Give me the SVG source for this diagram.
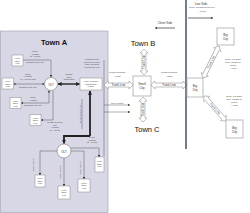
<svg xmlns="http://www.w3.org/2000/svg" width="250" height="213" viewBox="0 0 250 213">
<style>
text{font-family:"Liberation Sans",Arial,sans-serif}
.title{font-size:7.5px;fill:#111;text-anchor:middle}
.tiny{font-size:2.2px;fill:#444;text-anchor:middle}
.small{font-size:3px;fill:#333;text-anchor:middle}
.box{fill:#fff;stroke:#888;stroke-width:0.5}
.city{fill:#fff;stroke:#aaa;stroke-width:0.8}
.olt{fill:#fff;stroke:#777;stroke-width:0.6}
.thin{fill:none;stroke:#333;stroke-width:0.4}
.thick{fill:none;stroke:#222;stroke-width:1.4}
.trunk{fill:#fff;stroke:#999;stroke-width:0.6}
</style>
<defs>
<marker id="ah" viewBox="0 0 6 6" refX="5.5" refY="3" markerWidth="4" markerHeight="4" orient="auto-start-reverse" markerUnits="userSpaceOnUse">
<path d="M0,0 L6,3 L0,6 Z" fill="#222"/>
</marker>
<marker id="ahs" viewBox="0 0 6 6" refX="5.5" refY="3" markerWidth="2.2" markerHeight="2.2" orient="auto-start-reverse" markerUnits="userSpaceOnUse">
<path d="M0,0 L6,3 L0,6 Z" fill="#333"/>
</marker>
</defs>
<rect width="250" height="213" fill="#fff"/>

<g id="townA">
<rect x="0.5" y="31" width="107.5" height="181.5" fill="#d7d7e6" stroke="#9a9aaa" stroke-width="0.6"/>
<text class="title" x="54" y="45" font-weight="bold">Town A</text>
</g>

<g id="connectors">
<path class="thin" d="M23,60 H51 V77" marker-end="url(#ahs)"/>
<path class="thin" d="M13.5,84 H44.5" marker-start="url(#ahs)" marker-end="url(#ahs)"/>
<path class="thin" d="M21,103 H49 V90.5" marker-start="url(#ahs)" marker-end="url(#ahs)"/>
<path class="thin" d="M41,120 H53 V90.5" marker-start="url(#ahs)"/>
<path class="thick" d="M58,84 H79.5" marker-start="url(#ah)" marker-end="url(#ah)"/>
<path d="M90,136 V91" fill="none" stroke="#222" stroke-width="1.8" marker-end="url(#ah)"/>
<path d="M90,136 H64 V143.5" fill="none" stroke="#222" stroke-width="1.8" marker-end="url(#ah)"/>
<path class="thin" d="M104,60 V156"/>
<path class="thin" d="M82,99 V129"/>
<path class="thin" d="M104,105 H130" marker-end="url(#ahs)"/>
<path class="thin" d="M104,112 H130" marker-end="url(#ahs)"/>
<path class="thin" d="M57,151 H40 V175" marker-end="url(#ahs)"/>
<path class="thin" d="M64,158 V186" marker-end="url(#ahs)"/>
<path class="thin" d="M71,151 H84 V179" marker-end="url(#ahs)"/>
<path class="thin" d="M70.5,148 H99 V157" marker-end="url(#ahs)"/>
<path class="trunk" d="M104,85 L108,81 L108,83 L129,83 L129,81 L133,85 L129,89 L129,87 L108,87 L108,89 Z"/>
<text class="small" x="118.5" y="86.1" font-size="2.8">Trunk Line</text>
<path class="trunk" d="M151,85 L155,81 L155,83 L183,83 L183,81 L187,85 L183,89 L183,87 L155,87 L155,89 Z"/>
<text class="small" x="169" y="86.1" font-size="2.8">Trunk Line</text>
<path class="trunk" d="M144,49 L148,53 L146,53 L146,71 L148,71 L144,75 L140,71 L142,71 L142,53 L140,53 Z"/>
<text class="small" transform="translate(145,62) rotate(-90)" font-size="2.8">Trunk Line</text>
<path class="trunk" d="M143,97 L147,101 L145,101 L145,118 L147,118 L143,122 L139,118 L141,118 L141,101 L139,101 Z"/>
<text class="small" transform="translate(144,109.5) rotate(-90)" font-size="2.8">Trunk Line</text>
<g transform="translate(203,78) rotate(-63.4)">
<path class="trunk" d="M0,0 L4,-4 L4,-2 L31.8,-2 L31.8,-4 L35.8,0 L31.8,4 L31.8,2 L4,2 L4,4 Z"/>
<text class="small" x="17.9" y="1" font-size="2.8">Trunk Line</text>
</g>
<g transform="translate(204,96) rotate(48.7)">
<path class="trunk" d="M0,0 L4,-4 L4,-2 L29.3,-2 L29.3,-4 L33.3,0 L29.3,4 L29.3,2 L4,2 L4,4 Z"/>
<text class="small" x="16.6" y="1" font-size="2.8">Trunk Line</text>
</g>
<path d="M186,0 V149" stroke="#26335f" stroke-width="1.3"/>
<path d="M188,18 H213" stroke="#111" stroke-width="0.6" marker-end="url(#ahs)"/>
<path d="M175,28 H155" stroke="#111" stroke-width="0.6" marker-end="url(#ahs)"/>
</g>

<g id="labels">
<text class="small" x="201" y="4.5">Line Side</text>
<text class="tiny" x="202" y="8">Some 100Gbps Trunk line</text>
<text class="tiny" x="202" y="11.5">+ 80 km</text>
<text class="small" x="165" y="24">Client Side</text>
<text class="tiny" x="117" y="73">Tenant 100Gbps</text>
<text class="tiny" x="117" y="76.5">+ 80km</text>
<text class="tiny" x="169" y="73">Tenant 100Gbps</text>
<text class="tiny" x="169" y="76.5">+ 80km</text>
<text class="tiny" x="233" y="59.5">Some 1-3 Gbps</text>
<text class="tiny" x="233" y="62.5">lines, ranging to</text>
<text class="tiny" x="233" y="65.5">400km,</text>
<text class="tiny" x="233" y="68.5">+ 40km</text>
<text class="tiny" x="234" y="96.5">Some 1-3 Gbps</text>
<text class="tiny" x="234" y="99.5">lines, ranging to</text>
<text class="tiny" x="234" y="102.5">400km,</text>
<text class="tiny" x="234" y="105.5">+ 40km</text>
<text class="title" x="143" y="45.5">Town B</text>
<text class="title" x="147" y="132">Town C</text>
<text class="tiny" x="35" y="52">Node</text>
<text class="tiny" x="35" y="54.5">1 Gbps</text>
<text class="tiny" x="35" y="57">60 - 80 km</text>
<text class="tiny" x="35" y="63">Tenant service line</text>
<text class="tiny" x="28" y="74.5">Node</text>
<text class="tiny" x="28" y="77">1 Gbps</text>
<text class="tiny" x="28" y="79.5">60 - 80 km lines</text>
<text class="tiny" x="28" y="88">Tenant service line</text>
<text class="tiny" x="33" y="98">Node</text>
<text class="tiny" x="33" y="100.5">1 Gbps</text>
<text class="tiny" x="33" y="105.5">Tenant service line</text>
<text class="tiny" x="55" y="123">Tenant Telecom</text>
<text class="tiny" x="55" y="125.5">line</text>
<text class="tiny" x="55" y="128">1 Gbps</text>
<text class="tiny" x="55" y="130.5">60 - 80 km</text>
<text class="tiny" x="69" y="75">Optical</text>
<text class="tiny" x="69" y="77.5">Fiber</text>
<text class="tiny" x="69" y="80">Connection</text>
<text class="tiny" x="92" y="60">Tenant service</text>
<text class="tiny" x="92" y="62.5">Service Provider</text>
<text class="tiny" x="92" y="65">Fiber Terminal</text>
<text class="tiny" x="92" y="67.5">in Telecom Unit</text>
<text class="tiny" x="92" y="138">Trunk</text>
<text class="tiny" x="92" y="140.5">1 Gbps</text>
<text class="tiny" x="92" y="143">60 - 80 km</text>
<text class="tiny" transform="translate(80.5,114) rotate(-90)">Tenant service line</text>
<text class="tiny" x="117" y="103.5">Fiber Tenant</text>
<text class="tiny" transform="translate(34,165) rotate(-90)">Node 1 Gbps</text>
<text class="tiny" transform="translate(61,172) rotate(-90)">Node 1 Gbps</text>
<text class="tiny" transform="translate(81,168) rotate(-90)">Node 1 Gbps</text>
</g>

<g id="olt-top">
<circle class="olt" cx="51" cy="84" r="6.5"/>
<text class="small" x="51" y="85.6" font-size="4.5">OLT</text>
</g>
<g id="olt-bottom">
<circle class="olt" cx="64" cy="151" r="7"/>
<text class="small" x="64" y="152.6" font-size="4.5">OLT</text>
</g>
<g id="unit-1"><rect class="box" x="12" y="55" width="11" height="11"/><text class="tiny" x="17.5" y="59">Home</text><text class="tiny" x="17.5" y="61.5">Office</text><text class="tiny" x="17.5" y="64">Unit</text></g>
<g id="unit-2"><rect class="box" x="2" y="78" width="11.5" height="11"/><text class="tiny" x="7.75" y="82">Home</text><text class="tiny" x="7.75" y="84.5">Office</text><text class="tiny" x="7.75" y="87">Unit</text></g>
<g id="unit-3"><rect class="box" x="10" y="97.5" width="11" height="11"/><text class="tiny" x="15.5" y="101.5">Home</text><text class="tiny" x="15.5" y="104">Office</text><text class="tiny" x="15.5" y="106.5">Unit</text></g>
<g id="unit-4"><rect class="box" x="30" y="114.5" width="11" height="11"/><text class="tiny" x="35.5" y="118.5">Home</text><text class="tiny" x="35.5" y="121">Office</text><text class="tiny" x="35.5" y="123.5">Unit</text></g>
<g id="fiber-terminal"><rect class="box" x="80" y="78" width="22" height="12"/><text class="tiny" x="91" y="82">Fiber Terminal</text><text class="tiny" x="91" y="84.5">Distribution</text><text class="tiny" x="91" y="87">Frame</text></g>
<g id="unit-5"><rect class="box" x="35" y="175" width="10" height="12"/><text class="tiny" x="40" y="179">Home</text><text class="tiny" x="40" y="181.5">Office</text><text class="tiny" x="40" y="184">Unit</text></g>
<g id="unit-6"><rect class="box" x="58" y="186" width="12" height="13"/><text class="tiny" x="64" y="190.5">Home</text><text class="tiny" x="64" y="193">Office</text><text class="tiny" x="64" y="195.5">Unit</text></g>
<g id="unit-7"><rect class="box" x="78" y="179" width="12" height="13"/><text class="tiny" x="84" y="183.5">Home</text><text class="tiny" x="84" y="186">Office</text><text class="tiny" x="84" y="188.5">Unit</text></g>
<g id="unit-8"><rect class="box" x="95" y="157" width="9" height="15"/><text class="tiny" x="99.5" y="162">Home</text><text class="tiny" x="99.5" y="164.5">Office</text><text class="tiny" x="99.5" y="167">Unit</text></g>

<g id="small-city"><rect class="city" x="133" y="76" width="18" height="20"/><text class="small" x="142" y="85">Small</text><text class="small" x="142" y="89">City</text></g>
<g id="big-city-mid"><rect class="city" x="187" y="78" width="16" height="19"/><text class="small" x="195" y="87">Big</text><text class="small" x="195" y="91">City</text></g>
<g id="big-city-top"><rect class="city" x="217" y="28" width="17" height="17"/><text class="small" x="225.5" y="36">Big</text><text class="small" x="225.5" y="40">City</text></g>
<g id="big-city-bottom"><rect class="city" x="226" y="120" width="17" height="18"/><text class="small" x="234.5" y="128.5">Big</text><text class="small" x="234.5" y="132.5">City</text></g>
</svg>
